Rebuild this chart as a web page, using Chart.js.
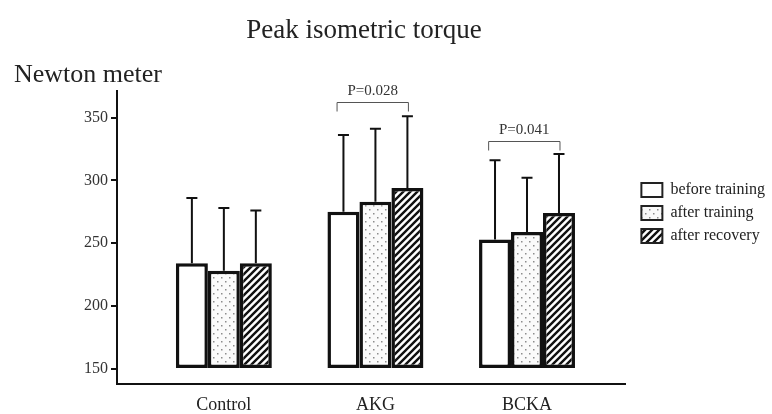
<!DOCTYPE html>
<html>
<head>
<meta charset="utf-8">
<script src="https://cdn.jsdelivr.net/npm/chart.js"></script>
<style>
  html, body { margin: 0; padding: 0; background: #fff; }
  #wrap { width: 772px; height: 414px; position: relative; }
</style>
</head>
<body>
<div id="wrap"><canvas id="torqueChart"></canvas></div>
<script>
// --- data ---
const groups = ['Control', 'AKG', 'BCKA'];
const seriesNames = ['before training', 'after training', 'after recovery'];
const beforeTraining = [234, 275, 253];
const afterTraining = [228, 283, 259];
const afterRecovery = [234, 294, 274];
const sdBefore = [52, 61, 63];
const sdAfter = [50, 58, 43];
const sdRecovery = [42, 57, 47];
const yTicks = [150, 200, 250, 300, 350];
const pGroups = [1, 2];
const pLabels = ['P=0.028', 'P=0.041'];
const pLevels = [362, 331];

const serif = "'Liberation Serif', 'Times New Roman', serif";
Chart.defaults.font.family = serif;

// fill patterns
const makeDots = () => {
    const c = document.createElement('canvas');
    c.width = 8; c.height = 8;
    const g = c.getContext('2d');
    g.fillStyle = '#fafafa';
    g.fillRect(0, 0, 8, 8);
    g.fillStyle = '#8c8c8c';
    g.fillRect(1, 1, 1.5, 1.5);
    g.fillRect(5, 5, 1.5, 1.5);
    return g.createPattern(c, 'repeat');
};
const makeHatch = () => {
    const s = 7;
    const c = document.createElement('canvas');
    c.width = s; c.height = s;
    const g = c.getContext('2d');
    g.fillStyle = '#fff';
    g.fillRect(0, 0, s, s);
    g.strokeStyle = '#111';
    g.lineWidth = 2.4;
    g.beginPath();
    g.moveTo(0, s); g.lineTo(s, 0);
    g.moveTo(-1, 1); g.lineTo(1, -1);
    g.moveTo(s - 1, s + 1); g.lineTo(s + 1, s - 1);
    g.stroke();
    return g.createPattern(c, 'repeat');
};

const values = [beforeTraining, afterTraining, afterRecovery];
const sds = [sdBefore, sdAfter, sdRecovery];
const fills = ['#ffffff', makeDots(), makeHatch()];

const datasets = seriesNames.map((name, i) => ({
    label: name,
    data: groups.map((g, j) => ({ x: j + 1, y: values[i][j] })),
    base: 150,
    backgroundColor: fills[i],
    borderColor: '#111',
    borderWidth: 3.5,
    borderSkipped: false,
    barPercentage: 1,
    categoryPercentage: 0.633
}));

// error bars + significance brackets
const annotations = {
    id: 'annotations',
    afterDatasetsDraw(chart) {
        const { ctx } = chart;
        const y = chart.scales.y;
        ctx.save();
        ctx.strokeStyle = '#111';
        ctx.lineWidth = 2;
        values.forEach((vals, i) => {
            chart.getDatasetMeta(i).data.forEach((bar, j) => {
                const top = y.getPixelForValue(vals[j] + sds[i][j]);
                ctx.beginPath();
                ctx.moveTo(bar.x, bar.y);
                ctx.lineTo(bar.x, top);
                ctx.moveTo(bar.x - 5.5, top);
                ctx.lineTo(bar.x + 5.5, top);
                ctx.stroke();
            });
        });

        ctx.strokeStyle = '#555';
        ctx.lineWidth = 1;
        ctx.fillStyle = '#333';
        ctx.font = '15px ' + serif;
        ctx.textAlign = 'center';
        ctx.textBaseline = 'bottom';
        pGroups.forEach((g, k) => {
            const a = chart.getDatasetMeta(0).data[g];
            const b = chart.getDatasetMeta(2).data[g];
            const x1 = a.x - a.width * 0.2;
            const x2 = b.x + 1;
            const yy = Math.round(y.getPixelForValue(pLevels[k])) + 0.5;
            ctx.beginPath();
            ctx.moveTo(x1, yy + 9);
            ctx.lineTo(x1, yy);
            ctx.lineTo(x2, yy);
            ctx.lineTo(x2, yy + 9);
            ctx.stroke();
            ctx.fillText(pLabels[k], (x1 + x2) / 2, yy - 4);
        });
        ctx.restore();
    }
};

// nudge title and legend to where the figure has them
const nudge = {
    id: 'nudge',
    afterLayout(chart) {
        chart.titleBlock.right -= 52;
        const l = chart.legend;
        l.left += 9; l.right += 9;
        l.top += 6; l.bottom += 6;
    }
};

new Chart(document.getElementById('torqueChart'), {
    type: 'bar',
    data: { datasets },
    plugins: [annotations, nudge],
    options: {
        responsive: true,
        maintainAspectRatio: false,
        animation: false,
        layout: { padding: { left: 14, right: 6, top: 0, bottom: 0 } },
        plugins: {
            title: {
                display: true,
                text: 'Peak isometric torque',
                color: '#222',
                font: { size: 27, weight: 'normal' },
                padding: { top: 15, bottom: 0 }
            },
            subtitle: {
                display: true,
                text: 'Newton meter',
                align: 'start',
                color: '#222',
                font: { size: 26, weight: 'normal' },
                padding: { top: 12, bottom: 0 }
            },
            legend: {
                position: 'right',
                align: 'center',
                labels: {
                    boxWidth: 21,
                    boxHeight: 14,
                    padding: 7,
                    color: '#222',
                    font: { size: 16 },
                    generateLabels(chart) {
                        return Chart.defaults.plugins.legend.labels.generateLabels(chart)
                            .map(item => ({ ...item, lineWidth: 2, strokeStyle: '#222' }));
                    }
                }
            },
            tooltip: { enabled: false }
        },
        scales: {
            x: {
                type: 'linear',
                offset: false,
                min: 0.295,
                max: 3.649,
                afterBuildTicks: scale => {
                    scale.ticks = groups.map((g, i) => ({ value: i + 1 }));
                },
                afterFit: scale => { scale.height = 30; },
                grid: { display: false, drawTicks: false },
                border: { color: '#111', width: 2 },
                ticks: {
                    padding: 10,
                    color: '#222',
                    font: { size: 18 },
                    callback: value => groups[value - 1]
                }
            },
            y: {
                min: 138,
                max: 371.4,
                afterBuildTicks: scale => {
                    scale.ticks = yTicks.map(v => ({ value: v }));
                },
                afterFit: scale => { scale.width = 103; },
                grid: { drawOnChartArea: false, color: '#111', lineWidth: 2, tickLength: 6 },
                border: { color: '#111', width: 2 },
                ticks: { padding: 3, color: '#333', font: { size: 16 } }
            }
        }
    }
});
</script>
</body>
</html>
